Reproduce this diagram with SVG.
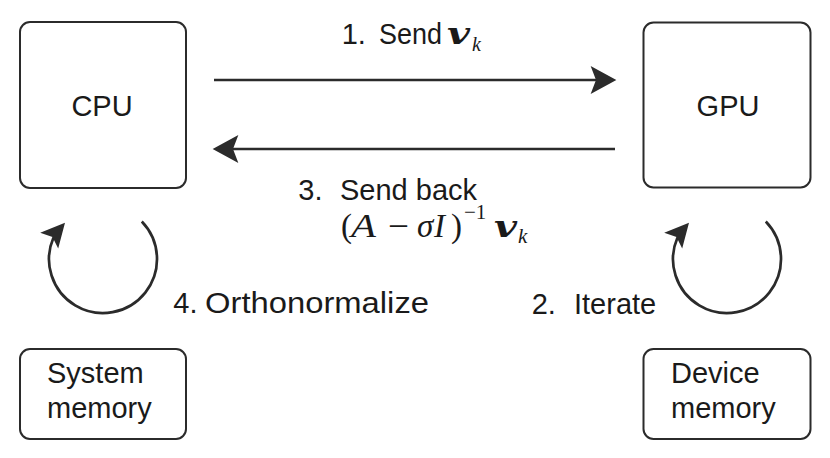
<svg xmlns="http://www.w3.org/2000/svg" width="830" height="458" viewBox="0 0 830 458">
<style>
.box{fill:#fff;stroke:#2b2b2b;stroke-width:2}
.conn{fill:none;stroke:#2b2b2b;stroke-width:2.7}
.head{fill:#2b2b2b;stroke:none}
.t{font-family:"Liberation Sans",Arial,Helvetica,sans-serif;font-size:29px;fill:#1a1a1a}
.m{font-family:"Liberation Serif","DejaVu Serif",serif;fill:#1a1a1a}
.mi{font-style:italic}
.mb{font-family:"DejaVu Serif","Liberation Serif",serif;font-weight:bold;font-style:italic}
</style>
<defs>
<marker id="arr" markerUnits="userSpaceOnUse" markerWidth="30" markerHeight="30" viewBox="-6 -14 26 28" refX="0" refY="0" orient="auto">
<path d="M19,0 L-5,-13 L0,0 L-5,13 Z" class="head"/>
</marker>
</defs>
<rect width="830" height="458" fill="#fff"/>
<g id="cpu">
<rect class="box" x="20" y="22" width="166" height="166" rx="10"/>
<text class="t" x="102" y="116" text-anchor="middle">CPU</text>
</g>
<g id="gpu">
<rect class="box" x="643.5" y="22.5" width="167" height="165" rx="10"/>
<text class="t" x="728" y="116" text-anchor="middle">GPU</text>
</g>
<g id="sysmem">
<rect class="box" x="20" y="349" width="166" height="90" rx="10"/>
<text class="t" x="47" y="383">System</text>
<text class="t" x="47" y="418">memory</text>
</g>
<g id="devmem">
<rect class="box" x="643.5" y="349" width="167" height="90" rx="10"/>
<text class="t" x="671" y="383">Device</text>
<text class="t" x="671" y="418">memory</text>
</g>
<g id="connectors">
<line class="conn" x1="214" y1="80" x2="596" y2="80" marker-end="url(#arr)"/>
<line class="conn" x1="615" y1="149" x2="233" y2="149" marker-end="url(#arr)"/>
<path class="conn" d="M141.8,221.5 A54,54 0 1 1 53.5,237.5"/>
<polygon class="head" points="65,222.7 58.2,248.6 52.5,237 40.2,232.8"/>
<path class="conn" d="M765.8,221.5 A54,54 0 1 1 677.5,237.5"/>
<polygon class="head" points="689,222.7 682.2,248.6 676.5,237 664.2,232.8"/>
</g>
<g id="labels">
<text class="t" x="341.7" y="44">1.</text>
<text class="t" x="379" y="44" textLength="63" lengthAdjust="spacingAndGlyphs">Send</text>
<text class="m mb" x="447" y="44" font-size="29" textLength="23" lengthAdjust="spacingAndGlyphs">v</text>
<text class="m mi" x="472" y="50.5" font-size="20">k</text>

<text class="t" x="298.3" y="200">3.</text>
<text class="t" x="340" y="200">Send back</text>
<text class="m" x="341" y="237" font-size="33">(</text>
<text class="m mi" x="351" y="237" font-size="33" textLength="25" lengthAdjust="spacingAndGlyphs">A</text>
<text class="m" x="388" y="237" font-size="33" textLength="21" lengthAdjust="spacingAndGlyphs">−</text>
<text class="m mi" x="417" y="237" font-size="33">σ</text>
<text class="m mi" x="434" y="237" font-size="33">I</text>
<text class="m" x="451" y="237" font-size="33">)</text>
<text class="m" x="464" y="219" font-size="21">−1</text>
<text class="m mb" x="494" y="237" font-size="29" textLength="23" lengthAdjust="spacingAndGlyphs">v</text>
<text class="m mi" x="518" y="243" font-size="21">k</text>

<text class="t" x="173.3" y="313">4.</text>
<text class="t" x="205" y="313" textLength="224" lengthAdjust="spacingAndGlyphs">Orthonormalize</text>
<text class="t" x="531.7" y="314">2.</text>
<text class="t" x="574" y="314">Iterate</text>
</g>
</svg>
